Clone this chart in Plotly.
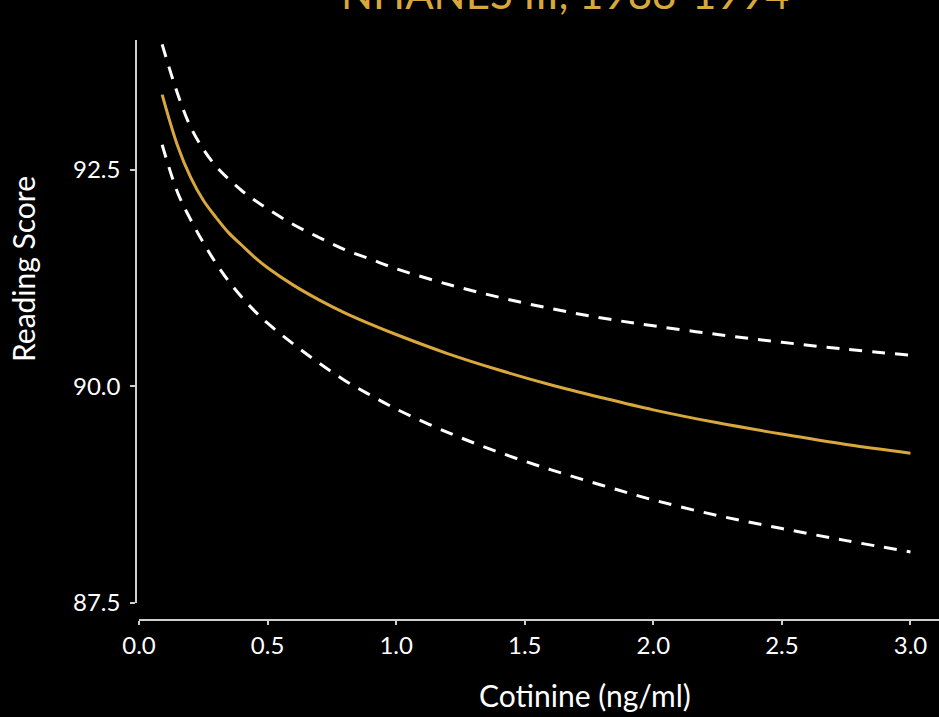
import plotly.graph_objects as go

# Cotinine concentration (ng/ml) at which the fitted curve and its bounds are evaluated
cotinine = [0.09, 0.15, 0.20, 0.25, 0.30, 0.35, 0.40, 0.45, 0.50, 0.60, 0.70, 0.80, 0.90,
            1.00, 1.20, 1.40, 1.60, 1.80, 2.00, 2.25, 2.50, 2.75, 3.00]

# Predicted reading score
reading_fit = [93.37, 92.78, 92.42, 92.15, 91.95, 91.77, 91.63, 91.49, 91.37, 91.17, 91.00,
               90.85, 90.72, 90.60, 90.38, 90.19, 90.02, 89.87, 89.73, 89.58, 89.45, 89.33, 89.23]

# Upper and lower confidence bounds
reading_upper = [93.95, 93.38, 93.00, 92.74, 92.54, 92.39, 92.26, 92.15, 92.05, 91.87, 91.72,
                 91.58, 91.47, 91.36, 91.18, 91.03, 90.90, 90.79, 90.70, 90.60, 90.51, 90.43, 90.36]
reading_lower = [92.79, 92.24, 91.93, 91.66, 91.42, 91.21, 91.03, 90.87, 90.73, 90.49, 90.27,
                 90.07, 89.90, 89.74, 89.47, 89.24, 89.04, 88.86, 88.69, 88.51, 88.36, 88.22, 88.09]

x_ticks = [0.0, 0.5, 1.0, 1.5, 2.0, 2.5, 3.0]
y_ticks = [87.5, 90.0, 92.5]

GOLD = "#D9A83C"
WHITE = "#FFFFFF"
AXIS = "#CFCFCF"
FONT = "Lato, 'Open Sans', sans-serif"

W, H = 939, 717
ML, MR, MT, MB = 136, 0, 40, 97
PW, PH = W - ML - MR, H - MT - MB

fig = go.Figure()
fig.add_trace(go.Scatter(x=cotinine, y=reading_upper, mode="lines",
                         line=dict(color=WHITE, width=3, dash="13px,10px", shape="spline"),
                         hoverinfo="skip"))
fig.add_trace(go.Scatter(x=cotinine, y=reading_lower, mode="lines",
                         line=dict(color=WHITE, width=3, dash="13px,10px", shape="spline"),
                         hoverinfo="skip"))
fig.add_trace(go.Scatter(x=cotinine, y=reading_fit, mode="lines",
                         line=dict(color=GOLD, width=3, shape="spline"),
                         hoverinfo="skip"))

fig.update_layout(
    width=W, height=H,
    margin=dict(l=ML, r=MR, t=MT, b=MB, pad=0),
    paper_bgcolor="black", plot_bgcolor="black",
    showlegend=False,
    font=dict(family=FONT, color=WHITE),
)

fig.update_xaxes(
    domain=[3 / PW, 1], range=[0, 3.111], anchor="free", position=0,
    tickvals=x_ticks, tickformat=".1f",
    showline=True, linecolor=AXIS, linewidth=1.5,
    ticks="outside", ticklen=4, tickwidth=1.5, tickcolor=AXIS,
    tickfont=dict(size=24, color=WHITE, family=FONT),
    showgrid=False, zeroline=False,
)
fig.update_yaxes(
    domain=[17 / PH, 1], range=[87.5, 94.0], anchor="free", position=0,
    tickvals=y_ticks, tickformat=".1f",
    showline=True, linecolor=AXIS, linewidth=1.5,
    ticks="outside", ticklen=5, tickwidth=1.5, tickcolor=AXIS,
    ticklabelstandoff=5,
    tickfont=dict(size=24, color=WHITE, family=FONT),
    showgrid=False, zeroline=False,
)

# Heading, set high so that it runs off the top edge of the page
fig.add_annotation(text="NHANES III, 1988-1994", xref="paper", yref="paper",
                   x=(565 - ML) / PW, y=1 + (MT + 7) / PH,
                   xanchor="center", yanchor="middle", showarrow=False,
                   font=dict(size=42, color=GOLD, family=FONT))
fig.add_annotation(text="Cotinine (ng/ml)", xref="paper", yref="paper",
                   x=(585 - ML) / PW, y=(PH + MT - 695) / PH,
                   xanchor="center", yanchor="middle", showarrow=False,
                   font=dict(size=30, color=WHITE, family=FONT))
fig.add_annotation(text="Reading Score", xref="paper", yref="paper",
                   x=(23 - ML) / PW, y=(PH + MT - 269) / PH, textangle=-90,
                   xanchor="center", yanchor="middle", showarrow=False,
                   font=dict(size=30, color=WHITE, family=FONT))

fig.write_html("out.html")
